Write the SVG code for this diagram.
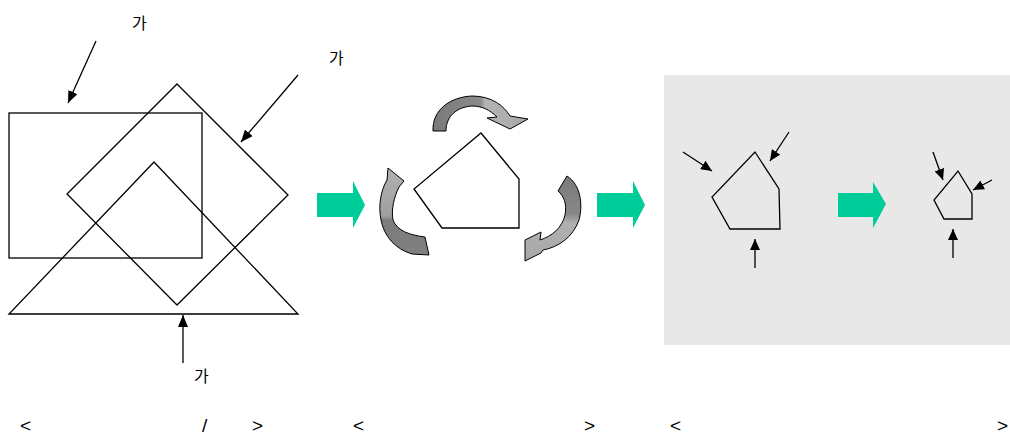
<svg xmlns="http://www.w3.org/2000/svg" width="1010" height="437" viewBox="0 0 1010 437">
<style>
.sh{fill:none;stroke:#000;stroke-width:1.3}
.ln{fill:none;stroke:#000;stroke-width:1.3}
.big{marker-end:url(#hb)}
.sm{marker-end:url(#hs)}
.t{font-family:"Liberation Sans","Noto Sans CJK KR",sans-serif;font-size:16px;fill:#000}
.b{font-family:"Liberation Sans","Noto Sans CJK KR",sans-serif;font-size:19px;fill:#000}
.g{fill:#00cc99}
.c{stroke:#000;stroke-width:1}
</style>
<defs>
<marker id="hb" viewBox="0 0 12 10" refX="12" refY="5" markerWidth="12" markerHeight="10" markerUnits="userSpaceOnUse" orient="auto">
<path d="M0,0 L12,5 L0,10 Z" fill="#000"/>
</marker>
<marker id="hs" viewBox="0 0 11 10" refX="11" refY="5" markerWidth="11" markerHeight="10" markerUnits="userSpaceOnUse" orient="auto">
<path d="M0,0 L11,5 L0,10 Z" fill="#000"/>
</marker>
<linearGradient id="gTop" x1="0" y1="0" x2="1" y2="0">
<stop offset="0" stop-color="#7a7a7a"/><stop offset="0.5" stop-color="#8a8a8a"/><stop offset="0.55" stop-color="#b4b4b4"/><stop offset="1" stop-color="#a8a8a8"/>
</linearGradient>
<linearGradient id="gLeft" x1="0" y1="0" x2="0" y2="1">
<stop offset="0" stop-color="#b0b0b0"/><stop offset="0.55" stop-color="#a0a0a0"/><stop offset="0.6" stop-color="#7c7c7c"/><stop offset="1" stop-color="#808080"/>
</linearGradient>
<linearGradient id="gRight" x1="0" y1="0" x2="0" y2="1">
<stop offset="0" stop-color="#7a7a7a"/><stop offset="0.45" stop-color="#888"/><stop offset="0.55" stop-color="#b0b0b0"/><stop offset="1" stop-color="#a8a8a8"/>
</linearGradient>
</defs>

<rect id="panel" x="664" y="75" width="346" height="270" fill="#e8e8e8"/>

<g id="shapes1">
<rect x="9" y="113" width="193" height="145" class="sh"/>
<polygon points="177,84 288,195 177,305 67,194" class="sh"/>
<polygon points="154,162 298,314 9,314" class="sh"/>
</g>

<g id="pentagon-mid">
<polygon points="481,133 519,179 519,228 442,228 414,189" class="sh"/>
</g>

<g id="cycle-arrows">
<path class="c" fill="url(#gTop)" d="M433,131 C432,110 450,97 472,96 C492,96 504,106 510,116 L528,119 L510,129 L487,118 L497,117 C490,110 482,106 472,106 C457,107 446,116 446,131 Z"/>
<path class="c" fill="url(#gLeft)" d="M388,168 L404,181 L399,187 C394,197 391,210 393,220 C397,231 410,235 425,237 L429,255 L412,254 C395,249 384,236 381,220 C378,205 381,190 387,180 Z"/>
<path class="c" fill="url(#gRight)" d="M567,176 C581,185 583,205 579,220 C573,237 559,247 543,250 L541,253 L525,261 L525,240 L541,232 L540,240 C552,236 562,228 565,215 C567,204 564,196 558,191 Z"/>
</g>

<g id="pentagon-big">
<polygon points="755,152 779,189 780,229 730,229 712,197" class="sh"/>
</g>
<g id="pentagon-small">
<polygon points="958,171 972,194 972,219 944,219 934,200" class="sh"/>
</g>

<g id="green-arrows">
<path class="g" d="M317,193 L353,193 L353,181 L365,205 L353,228 L353,217 L317,217 Z"/>
<path class="g" d="M597,193 L633,193 L633,181 L645,205 L633,228 L633,217 L597,217 Z"/>
<path class="g" d="M838,193 L873,193 L873,182 L886,204 L873,228 L873,217 L838,217 Z"/>
</g>

<g id="connectors">
<line x1="96" y1="41" x2="68" y2="103" class="ln big"/>
<line x1="298" y1="75" x2="241" y2="142" class="ln big"/>
<line x1="183" y1="363" x2="183" y2="315" class="ln big"/>
<line x1="683" y1="152" x2="712" y2="171" class="ln sm"/>
<line x1="789" y1="132" x2="770" y2="161" class="ln sm"/>
<line x1="755" y1="268" x2="755" y2="239" class="ln sm"/>
<line x1="933" y1="152" x2="943" y2="180" class="ln sm"/>
<line x1="992" y1="180" x2="973" y2="190" class="ln sm"/>
<line x1="953" y1="258" x2="953" y2="229" class="ln sm"/>
</g>

<g id="labels">
<text x="132" y="29" class="t">가</text>
<text x="329" y="64" class="t">가</text>
<text x="194" y="382" class="t">가</text>
<text x="20" y="432" class="b">&lt;</text>
<text x="202" y="432" class="b">/</text>
<text x="252" y="432" class="b">&gt;</text>
<text x="353" y="432" class="b">&lt;</text>
<text x="584" y="432" class="b">&gt;</text>
<text x="670" y="432" class="b">&lt;</text>
<text x="997" y="432" class="b">&gt;</text>
</g>
</svg>
